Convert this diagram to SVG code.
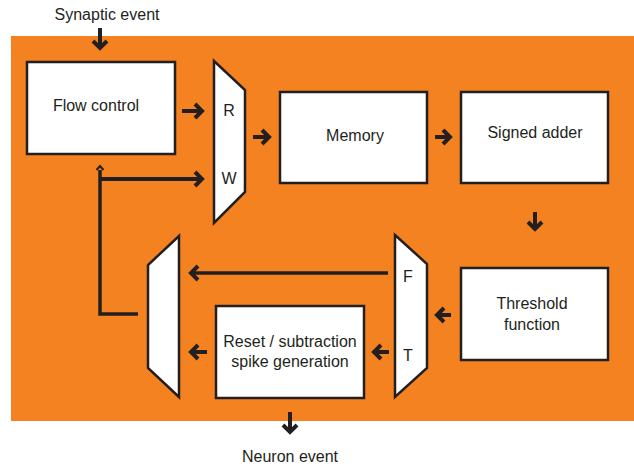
<svg xmlns="http://www.w3.org/2000/svg" width="634" height="468" viewBox="0 0 634 468">
  <defs>
    <style>
      .box { fill: #ffffff; stroke: #231f20; stroke-width: 2.5; }
      .lbl { font-family: "Liberation Sans", Arial, sans-serif; font-size: 16px; fill: #231f20; text-anchor: middle; }
      .wire { fill: none; stroke: #231f20; stroke-width: 4; stroke-linejoin: miter; }
      .thin { fill: none; stroke: #231f20; stroke-width: 3.5; }
    </style>
    <marker id="head" markerUnits="userSpaceOnUse" markerWidth="14" markerHeight="18" viewBox="0 0 14 18" refX="10" refY="9" orient="auto" overflow="visible">
      <path d="M3,2 L10,9 L3,16" fill="none" stroke="#231f20" stroke-width="4" stroke-linejoin="miter"/>
    </marker>
  </defs>

  <!-- background panel -->
  <rect x="11" y="36" width="623" height="385" fill="#f58220"/>

  <!-- external labels -->
  <text class="lbl" x="107" y="20">Synaptic event</text>
  <text class="lbl" x="290" y="462">Neuron event</text>

  <g id="flow-control">
    <rect class="box" x="27" y="62" width="148" height="92"/>
    <text class="lbl" x="96" y="111">Flow control</text>
  </g>

  <g id="rw-mux">
    <polygon class="box" points="214,61 245,90 245,192 214,223"/>
    <text class="lbl" x="229" y="116">R</text>
    <text class="lbl" x="229" y="184">W</text>
  </g>

  <g id="memory">
    <rect class="box" x="280" y="92" width="147" height="91"/>
    <text class="lbl" x="355" y="141">Memory</text>
  </g>

  <g id="signed-adder">
    <rect class="box" x="461" y="92" width="147" height="91"/>
    <text class="lbl" x="535" y="138">Signed adder</text>
  </g>

  <g id="threshold">
    <rect class="box" x="461" y="268" width="147" height="92"/>
    <text class="lbl" x="532" y="309">Threshold</text>
    <text class="lbl" x="532" y="330">function</text>
  </g>

  <g id="ft-mux">
    <polygon class="box" points="395,235 427,264 427,368 395,397"/>
    <text class="lbl" x="408" y="282">F</text>
    <text class="lbl" x="408" y="361">T</text>
  </g>

  <g id="reset">
    <rect class="box" x="216" y="306" width="148" height="92"/>
    <text class="lbl" x="290" y="347">Reset / subtraction</text>
    <text class="lbl" x="290" y="367">spike generation</text>
  </g>

  <g id="out-mux">
    <polygon class="box" points="179,236 148,265 148,368 179,397"/>
  </g>

  <g id="connectors">
    <line class="wire" x1="100" y1="28" x2="100" y2="48" marker-end="url(#head)"/>
    <line class="wire" x1="182" y1="111" x2="202" y2="111" marker-end="url(#head)"/>
    <line class="wire" x1="253" y1="137" x2="269" y2="137" marker-end="url(#head)"/>
    <line class="wire" x1="435" y1="137" x2="450" y2="137" marker-end="url(#head)"/>
    <line class="wire" x1="535" y1="212" x2="535" y2="229" marker-end="url(#head)"/>
    <line class="wire" x1="451" y1="315" x2="437" y2="315" marker-end="url(#head)"/>
    <line class="thin" x1="388" y1="273" x2="191" y2="273" marker-end="url(#head)"/>
    <line class="wire" x1="389" y1="352" x2="374" y2="352" marker-end="url(#head)"/>
    <line class="wire" x1="207" y1="352" x2="191" y2="352" marker-end="url(#head)"/>
    <line class="wire" x1="290" y1="412" x2="290" y2="432" marker-end="url(#head)"/>
    <!-- feedback loop back to flow control and the write port -->
    <polyline class="thin" points="138,314 100,314 100,170"/>
    <line class="wire" x1="100" y1="179" x2="202" y2="179" marker-end="url(#head)"/>
    <path d="M96.5,170 L100,166 L103.5,170" fill="none" stroke="#231f20" stroke-width="2"/>
  </g>
</svg>
